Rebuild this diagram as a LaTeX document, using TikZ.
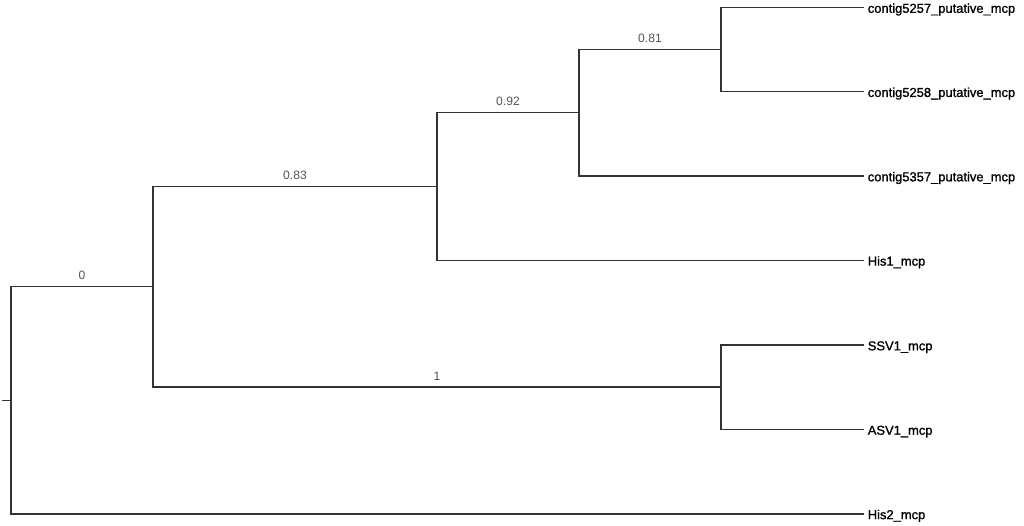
\documentclass[tikz,border=0pt]{standalone}
\usepackage{fontspec}
\setmainfont{Liberation Sans}
\newfontfamily\leaffont{Liberation Sans}[FakeBold=1.2]
\definecolor{edge}{HTML}{333333}
\definecolor{blabel}{HTML}{555555}
\begin{document}
\begin{tikzpicture}[x=0.75pt,y=-0.75pt,
  branch/.style={draw=edge,line width=1.1pt,line cap=rect},
  leaf/.style={anchor=base west,inner sep=0pt,font=\leaffont\fontsize{9.7pt}{11pt}\selectfont,text=black},
  blab/.style={midway,above,inner sep=0pt,yshift=4.8pt,font=\fontsize{9.1pt}{11pt}\selectfont,text=blabel}]
\useasboundingbox (0,0) rectangle (1024,525);
% internal nodes
\coordinate (stub) at (3,400.3);
\coordinate (r) at (11,400.3);
\coordinate (n0) at (153,286.7);
\coordinate (n1) at (437,186.3);
\coordinate (n2) at (579,112.5);
\coordinate (n3) at (721,49.5);
\coordinate (n4) at (721,387.2);
% leaf tips
\coordinate (t1) at (863,7.5);
\coordinate (t2) at (863,91.6);
\coordinate (t3) at (863,176);
\coordinate (t4) at (863,260.3);
\coordinate (t5) at (863,345);
\coordinate (t6) at (863,429.4);
\coordinate (t7) at (863,513.8);
% leaf labels
\node[leaf] (l1) at ([xshift=3.4pt,yshift=-4pt]t1) {contig5257\_putative\_mcp};
\node[leaf] (l2) at ([xshift=3.4pt,yshift=-4pt]t2) {contig5258\_putative\_mcp};
\node[leaf] (l3) at ([xshift=3.4pt,yshift=-4pt]t3) {contig5357\_putative\_mcp};
\node[leaf] (l4) at ([xshift=3.4pt,yshift=-4pt]t4) {His1\_mcp};
\node[leaf] (l5) at ([xshift=3.4pt,yshift=-4pt]t5) {SSV1\_mcp};
\node[leaf] (l6) at ([xshift=3.4pt,yshift=-4pt]t6) {ASV1\_mcp};
\node[leaf] (l7) at ([xshift=3.4pt,yshift=-4pt]t7) {His2\_mcp};
% edges
\draw[branch] (stub) -- (r);
\draw[branch] (r |- n0) -- (r |- t7);
\draw[branch] (r |- n0) -- node[blab] {0} (n0);
\draw[branch] (r |- t7) -- (t7);
\draw[branch] (n0 |- n1) -- (n0 |- n4);
\draw[branch] (n0 |- n1) -- node[blab] {0.83} (n1);
\draw[branch] (n0 |- n4) -- node[blab] {1} (n4);
\draw[branch] (n1 |- n2) -- (n1 |- t4);
\draw[branch] (n1 |- n2) -- node[blab] {0.92} (n2);
\draw[branch] (n1 |- t4) -- (t4);
\draw[branch] (n2 |- n3) -- (n2 |- t3);
\draw[branch] (n2 |- n3) -- node[blab] {0.81} (n3);
\draw[branch] (n2 |- t3) -- (t3);
\draw[branch] (n3 |- t1) -- (n3 |- t2);
\draw[branch] (n3 |- t1) -- (t1);
\draw[branch] (n3 |- t2) -- (t2);
\draw[branch] (n4 |- t5) -- (n4 |- t6);
\draw[branch] (n4 |- t5) -- (t5);
\draw[branch] (n4 |- t6) -- (t6);
\end{tikzpicture}
\end{document}
